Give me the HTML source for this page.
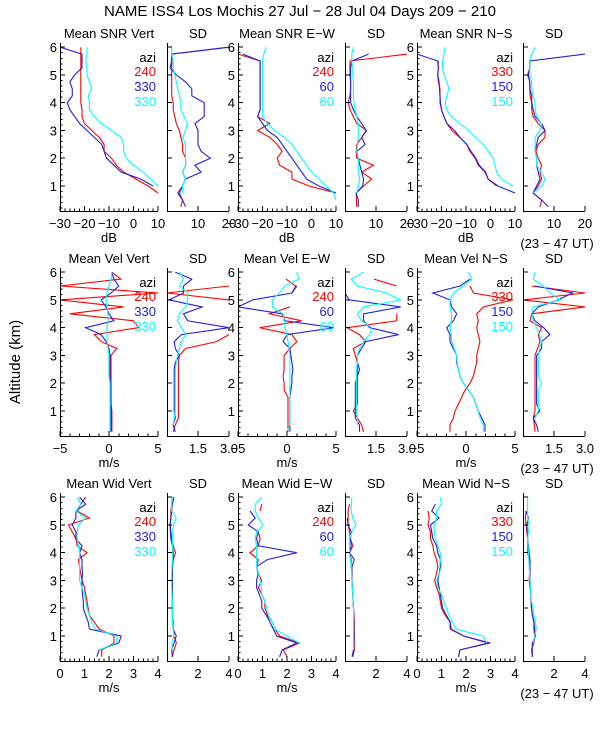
<!DOCTYPE html>
<html><head><meta charset="utf-8"><style>
html,body{margin:0;padding:0;background:#fff;}
svg{display:block;font-family:"Liberation Sans",sans-serif;}
text{fill:#000;}
</style></head><body>
<svg id="chart" width="600" height="750" viewBox="0 0 600 750" xmlns="http://www.w3.org/2000/svg">
<rect width="600" height="750" fill="#fff"/>
<text x="300" y="16" font-size="15" text-anchor="middle">NAME ISS4 Los Mochis  27 Jul − 28 Jul 04 Days 209 − 210</text>
<text x="0" y="0" font-size="15" text-anchor="middle" transform="translate(20,362) rotate(-90)">Altitude (km)</text>
<g id="panels"></g>
</svg>
<script>
const altitudes=[0.25,0.5,0.75,1.0,1.25,1.5,1.75,2.0,2.25,2.5,2.75,3.0,3.25,3.5,3.75,4.0,4.25,4.5,4.75,5.0,5.25,5.5,5.75,6.0];

const snrVertRed=[null,null,10,6,1,-4,-7,-9,-12,-12,-14,-17,-20,-21,-21,-21.5,-21.5,-21.5,-21.5,-21.5,-21.5,-21.5,-21.5,-21.5];
const snrVertBlue=[null,null,null,8,3,-5,-8,-11,-12,-13,-16,-19,-22,-24,-26,-27,-25,-25,-26,-24,-21,-21,-21,-30];
const snrVertCyan=[null,null,null,10,7,4,0,-3,-4,-4,-5,-9,-13,-16,-18,-18,-18.5,-17,-18,-19,-19,-19.5,-19,-19];
const sdSnrVertRed=[4.5,5,4,5,6,5,6,6,5,5,4.5,4,3,2.5,2,2,1.5,1.5,1.5,1.5,1.5,1.5,1.5,20];
const sdSnrVertBlue=[6,5,3.5,5,6,11,9,14,11,10,10,10,9,12,12,12,8,8,6,3,1,1.5,1.5,20];
const sdSnrVertCyan=[null,null,5,5,6,5,6,6,6,6,5,6,6.5,5.5,4.5,4.5,4,3.5,3,2.5,2,2,1.5,1.5];

const snrEWRed=[null,null,10,-1,-8,-8,-13,-14,-12,-14,-17,-22,-17,-22,-21,-21,-21,-21,-21,-21,-21,-21,-30,null];
const snrEWBlue=[null,null,10,3,-2,-4,-6,-8,-10,-12,-14,-18,-20,-22,-21,-21,-21,-21,-21,-21,-21,-21,-28,null];
const snrEWCyan=[null,10,9,6,3,0,-2,-4,-6,-8,-11,-15,-18,-20,-20,-20,-20,-20,-20,-20,-20,-20,-19.5,-18.5];
const sdSnrEWRed=[3.8,3.7,3.6,6,8.6,5.4,9.2,3.8,3.6,3.8,5.4,7,3.8,2.7,1.6,1,1.6,1.8,1.8,1.6,1.6,1.6,20,null];
const sdSnrEWBlue=[4.3,4.3,3.6,5.7,6,5.4,4.8,4.3,3.8,6.5,5.4,6.8,5.4,3.8,2.7,1.8,1.8,1.8,1.8,1.8,1.8,2.2,7.6,null];
const sdSnrEWCyan=[null,null,3.8,4.3,4.8,4.3,4.3,4.3,3.8,4,4.3,4.3,4.3,3.8,3.2,2.9,2.7,2.7,2.7,2.5,2.5,2.2,2.2,2.7];

const snrNSRed=[9,null,null,2.5,-0.9,-2.3,-5,-6.3,-8.4,-9.7,-12.5,-15.8,-17.8,-19,-20,-20.6,-20.6,-20.6,-21.3,-21.5,-21.3,-21.3,null,null];
const snrNSBlue=[null,null,10,3,-1,-2,-4.6,-6,-8,-9.7,-12.5,-14.7,-17.8,-19,-20,-20.4,-20.6,-20.8,-21,-21.5,-21.3,-21.5,-30,null];
const snrNSCyan=[null,null,null,9.3,4.5,2.5,1.8,1.1,-0.9,-3,-6,-9,-12.5,-16,-17.8,-18.5,-17.8,-17,-17.8,-19,-19.6,-19.6,-19,-18.5];
const sdSnrNSRed=[5.5,6,3.3,4.9,6,5.5,6,4.9,4.2,4.9,7.1,7.1,4.9,3.3,2.8,2.8,2.3,2.2,2.2,1.5,2.2,2.2,null,null];
const sdSnrNSBlue=[8.2,6,3.3,4.4,5.5,4.9,4.4,4.4,3.9,4.4,4.9,7.1,6,3.9,3.3,2.8,2.8,2.2,2.2,1.7,2.2,2.2,20,null];
const sdSnrNSCyan=[null,null,3.3,6,7.1,6,4.4,4.4,3.9,3.9,3.9,5.5,6,4.4,3.9,3.9,3.3,2.8,2.8,2.2,2.2,2.2,2.8,3.9];

const velVertRed=[0.3,0.3,0.3,0.3,0.2,0.2,0.2,0.2,0.2,0.2,0.2,0.2,0.8,-0.8,-1.5,3,2.5,-4,1.5,-5,5,-5,1.2,0.3];
const velVertBlue=[0.2,0.2,0.2,0.2,0.2,0.2,0.2,0.2,0.1,0.1,0.1,0.1,0,-0.3,-0.8,-2.4,0.5,0,-0.3,-0.8,0.2,1,0.5,0.3];
const velVertCyan=[0.1,0.1,0.1,0.1,0.1,0.1,0.1,0.1,0,0,0,0,-0.1,-0.2,-0.2,-0.2,-0.1,-0.1,-0.2,-0.3,-0.2,0,0.2,0.3];
const sdVelVertRed=[0.3,0.4,0.55,0.55,0.55,0.55,0.55,0.55,0.55,0.55,0.55,0.6,0.9,2.4,3,null,null,null,null,3,0,3,null,null];
const sdVelVertBlue=[0.4,0.3,0.4,0.35,0.35,0.35,0.35,0.35,0.35,0.35,0.4,0.6,0.4,0.35,0.7,3,1,0.8,1.7,0.1,0.8,0.8,1.2,0.4];
const sdVelVertCyan=[null,0.3,0.35,0.4,0.4,0.4,0.4,0.4,0.4,0.4,0.45,0.5,0.6,0.7,0.9,0.7,0.5,0.6,0.9,1,1,0.6,0.8,0.6];

const velEWRed=[0.1,0.1,0.1,0.1,0.1,0.1,-0.3,-0.3,-0.4,-0.3,-0.3,-0.3,0.3,1,0.5,-2.8,1.5,-1.8,0.3,null,0.5,0.9,-0.1,null];
const velEWBlue=[0.3,0.3,0.3,0.3,0.3,0.3,0.4,0.5,0.5,0.6,0.5,0.4,0.3,-0.4,0,4.8,-0.2,-0.5,-5,-3.5,0.5,1,null,null];
const velEWCyan=[0,0.3,0.3,0.3,0.3,0.3,0.3,0.3,0.3,0.3,0.3,0.3,0.2,0.1,0,-0.2,-0.3,-0.4,-1.5,-1.5,-0.8,-0.2,1.2,1];
const sdVelEWRed=[0.9,0.8,0.6,0.4,0.6,0.6,0.6,0.6,0.6,0.6,0.6,0.5,0.4,1,0.7,0.1,2.5,2.5,null,null,null,2.5,1.4,null];
const sdVelEWBlue=[0.7,0.7,0.5,0.5,0.5,0.5,0.5,0.5,0.6,0.7,0.6,0.6,0.8,1,2.6,1.2,0.9,0.9,2.7,0.2,0,0,null,null];
const sdVelEWCyan=[null,0.6,0.6,0.55,0.55,0.55,0.55,0.55,0.55,0.55,0.6,0.6,0.7,0.9,1.2,1.3,0.8,0.6,0.9,2.7,2.0,0.6,0.3,0.9];

const velNSRed=[-1.63,-1.63,-1.29,-1.12,-0.78,-0.44,-0.1,0.41,0.75,0.92,1.09,1.09,1.26,1.43,1.26,1.09,1.26,1.09,1.8,4.8,0.75,0.41,null,null];
const velNSBlue=[1.94,1.94,1.6,1.26,1.0,0.75,0.24,-0.27,-0.61,-0.78,-0.95,-0.95,-1.29,-1.63,-1.63,-1.97,-1.29,-0.95,-1.46,-1.63,-3.4,-0.61,0.41,null];
const velNSCyan=[1.77,1.77,1.43,1.26,1.0,0.75,0.24,-0.27,-0.6,-0.78,-0.9,-0.95,-1.2,-1.46,-1.5,-1.63,-1.5,-1.46,-1.63,-1.63,-1.29,-0.27,0.58,0.24];
const sdVelNSRed=[0.58,0.55,0.5,0.58,0.58,0.58,0.58,0.58,0.58,0.58,0.58,0.58,0.7,0.82,0.74,0.9,0.34,0.42,3,0.02,3,0.42,null,null];
const sdVelNSBlue=[0.74,0.66,0.5,0.82,0.66,0.66,0.66,0.66,0.66,0.66,0.66,0.66,0.9,0.9,1.3,1.0,0.58,0.42,0.74,1.7,2.4,0.58,null,null];
const sdVelNSCyan=[null,null,0.58,0.74,0.74,0.74,0.74,0.9,0.74,0.74,0.74,0.74,0.8,0.9,0.8,0.66,0.5,0.42,0.5,1.8,1.3,0.98,0.5,0.58];

const widVertRed=[1.7,1.7,2.2,2.2,1.6,1.4,1.2,1.15,1.1,1.05,1.0,0.9,0.85,0.8,0.75,1.1,0.7,0.65,0.5,0.35,1.2,0.7,0.85,1.05];
const widVertBlue=[1.5,1.6,2.4,2.5,1.2,1.15,1.05,0.95,0.95,0.92,0.9,0.9,0.92,0.9,0.9,0.8,0.9,0.65,0.65,0.5,0.65,0.65,1.05,0.8];
const widVertCyan=[null,1.6,2.3,2.3,1.45,1.3,1.2,1.1,1.05,1.0,0.9,0.8,0.8,0.8,0.8,0.8,0.75,0.7,0.7,0.75,1.05,0.65,0.85,0.7];
const sdWidVertRed=[0.35,0.45,0.6,0.45,0.4,0.4,0.35,0.35,0.35,0.35,0.35,0.35,0.35,0.35,0.4,0.55,0.4,0.3,0.25,0.2,0.25,0.25,0.3,0.35];
const sdWidVertBlue=[0.35,0.3,0.45,0.6,0.4,0.35,0.35,0.35,0.35,0.35,0.35,0.35,0.35,0.35,0.38,0.4,0.35,0.25,0.22,0.2,0.25,0.3,0.35,0.45];
const sdWidVertCyan=[null,0.35,0.3,0.45,0.4,0.35,0.35,0.35,0.35,0.32,0.3,0.3,0.3,0.32,0.35,0.35,0.35,0.35,0.38,0.4,0.6,0.3,0.3,0.35];

const widEWRed=[2.0,1.85,2.5,1.7,1.5,1.4,1.2,1.1,1.1,0.97,0.83,0.97,0.83,0.76,0.83,0.49,0.83,0.9,0.83,null,null,0.9,0.97,null];
const widEWBlue=[1.7,1.8,2.4,1.58,1.44,1.3,1.15,0.97,0.97,0.87,0.76,0.76,0.83,0.76,1.2,2.4,0.83,0.76,0.83,0.42,0.7,0.49,null,null];
const widEWCyan=[null,null,2.5,2.0,1.5,1.4,1.24,1.17,1.1,0.97,0.95,0.9,0.85,0.76,0.76,0.76,0.76,0.7,0.76,1.03,0.83,0.7,0.7,0.97];
const sdWidEWRed=[0.5,0.6,0.6,0.6,0.6,0.6,0.58,0.55,0.52,0.5,0.48,0.45,0.45,0.4,0.4,0.3,0.5,0.35,0.3,0.2,0.2,0.2,0.3,null];
const sdWidEWBlue=[0.45,0.55,0.58,0.6,0.58,0.57,0.56,0.55,0.52,0.5,0.48,0.45,0.45,0.45,0.6,0.3,0.4,0.35,0.4,0.2,0.15,null,null,null];
const sdWidEWCyan=[null,0.55,0.55,0.55,0.55,0.55,0.55,0.55,0.52,0.5,0.48,0.45,0.42,0.4,0.35,0.3,0.3,0.3,0.45,0.7,0.5,0.4,0.4,0.45];

const widNSRed=[1.7,1.75,3.0,1.9,1.35,1.35,1.15,1.0,0.95,0.9,0.8,0.72,0.8,0.85,0.8,0.7,0.65,0.55,0.55,0.45,0.5,0.45,null,null];
const widNSBlue=[1.7,1.75,2.9,1.9,1.4,1.35,1.2,1.05,1.0,0.95,0.9,0.85,0.9,0.95,0.95,0.85,0.8,0.65,0.6,0.55,0.9,0.6,0.75,null];
const widNSCyan=[null,null,2.85,2.7,1.6,1.45,1.3,1.2,1.1,1.0,0.85,0.8,0.9,1.0,0.95,0.95,0.85,0.75,0.7,0.7,0.8,0.8,1.0,0.95];
const sdWidNSRed=[0.6,0.55,0.7,0.75,0.7,0.7,0.6,0.55,0.52,0.5,0.45,0.4,0.42,0.45,0.4,0.3,0.3,0.3,0.25,0.2,0.15,0.2,null,null];
const sdWidNSBlue=[0.6,0.6,0.6,0.8,0.75,0.7,0.6,0.55,0.52,0.5,0.48,0.45,0.45,0.45,0.45,0.4,0.35,0.3,0.28,0.25,0.35,0.2,null,null];
const sdWidNSCyan=[null,null,0.65,0.75,0.85,0.8,0.7,0.65,0.55,0.5,0.48,0.45,0.42,0.4,0.38,0.35,0.32,0.3,0.35,0.4,0.3,0.3,0.3,0.3];

const yTickLabels=["1","2","3","4","5","6"];
const snrTickLabels=["−30","−20","−10","0","10"];
const snrTickValues=[-30,-20,-10,0,10];
const sdSnrTickLabels=["10","20"];
const sdSnrTickValues=[10,20];
const velTickLabels=["−5","0","5"];
const velTickValues=[-5,0,5];
const sdVelTickLabels=["1.5","3.0"];
const sdVelTickValues=[1.5,3.0];
const widTickLabels=["0","1","2","3","4"];
const widTickValues=[0,1,2,3,4];
const sdWidTickLabels=["2","4"];
const sdWidTickValues=[2,4];
const legendVert=["240","330","330"];
const legendEW=["240","60","60"];
const legendNS=["330","150","150"];

const COLORS=["#ff0000","#2020dd","#00ffff"];
const NS="http://www.w3.org/2000/svg";
const root=document.getElementById('panels');
const Y_MIN=0.1,Y_MAX=6.15;
const rowTops=[43,268,493];
const PH=168;
const meanX=[60,238,417],sdX=[167,345,523];
const MW=98,SW=62;

function mk(tag,attrs,parent){const e=document.createElementNS(NS,tag);for(const k in attrs)e.setAttribute(k,attrs[k]);(parent||root).appendChild(e);return e;}

const panels=[
 {row:0,x:meanX[0],w:MW,title:"Mean SNR Vert",dom:[-30,10],tv:snrTickValues,tl:snrTickLabels,minor:2,series:[snrVertRed,snrVertBlue,snrVertCyan],legend:legendVert,xlabel:"dB",mean:true},
 {row:0,x:sdX[0],w:SW,title:"SD",dom:[0,20],tv:sdSnrTickValues,tl:sdSnrTickLabels,minor:0,series:[sdSnrVertRed,sdSnrVertBlue,sdSnrVertCyan]},
 {row:0,x:meanX[1],w:MW,title:"Mean SNR E−W",dom:[-30,10],tv:snrTickValues,tl:snrTickLabels,minor:2,series:[snrEWRed,snrEWBlue,snrEWCyan],legend:legendEW,xlabel:"dB",mean:true},
 {row:0,x:sdX[1],w:SW,title:"SD",dom:[0,20],tv:sdSnrTickValues,tl:sdSnrTickLabels,minor:0,series:[sdSnrEWRed,sdSnrEWBlue,sdSnrEWCyan]},
 {row:0,x:meanX[2],w:MW,title:"Mean SNR N−S",dom:[-30,10],tv:snrTickValues,tl:snrTickLabels,minor:2,series:[snrNSRed,snrNSBlue,snrNSCyan],legend:legendNS,xlabel:"dB",mean:true},
 {row:0,x:sdX[2],w:SW,title:"SD",dom:[0,20],tv:sdSnrTickValues,tl:sdSnrTickLabels,minor:0,series:[sdSnrNSRed,sdSnrNSBlue,sdSnrNSCyan],ut:true},
 {row:1,x:meanX[0],w:MW,title:"Mean Vel Vert",dom:[-5,5],tv:velTickValues,tl:velTickLabels,minor:1,series:[velVertRed,velVertBlue,velVertCyan],legend:legendVert,xlabel:"m/s",mean:true},
 {row:1,x:sdX[0],w:SW,title:"SD",dom:[0,3],tv:sdVelTickValues,tl:sdVelTickLabels,minor:0,series:[sdVelVertRed,sdVelVertBlue,sdVelVertCyan]},
 {row:1,x:meanX[1],w:MW,title:"Mean Vel E−W",dom:[-5,5],tv:velTickValues,tl:velTickLabels,minor:1,series:[velEWRed,velEWBlue,velEWCyan],legend:legendEW,xlabel:"m/s",mean:true},
 {row:1,x:sdX[1],w:SW,title:"SD",dom:[0,3],tv:sdVelTickValues,tl:sdVelTickLabels,minor:0,series:[sdVelEWRed,sdVelEWBlue,sdVelEWCyan]},
 {row:1,x:meanX[2],w:MW,title:"Mean Vel N−S",dom:[-5,5],tv:velTickValues,tl:velTickLabels,minor:1,series:[velNSRed,velNSBlue,velNSCyan],legend:legendNS,xlabel:"m/s",mean:true},
 {row:1,x:sdX[2],w:SW,title:"SD",dom:[0,3],tv:sdVelTickValues,tl:sdVelTickLabels,minor:0,series:[sdVelNSRed,sdVelNSBlue,sdVelNSCyan],ut:true},
 {row:2,x:meanX[0],w:MW,title:"Mean Wid Vert",dom:[0,4],tv:widTickValues,tl:widTickLabels,minor:0.2,series:[widVertRed,widVertBlue,widVertCyan],legend:legendVert,xlabel:"m/s",mean:true},
 {row:2,x:sdX[0],w:SW,title:"SD",dom:[0,4],tv:sdWidTickValues,tl:sdWidTickLabels,minor:0,series:[sdWidVertRed,sdWidVertBlue,sdWidVertCyan]},
 {row:2,x:meanX[1],w:MW,title:"Mean Wid E−W",dom:[0,4],tv:widTickValues,tl:widTickLabels,minor:0.2,series:[widEWRed,widEWBlue,widEWCyan],legend:legendEW,xlabel:"m/s",mean:true},
 {row:2,x:sdX[1],w:SW,title:"SD",dom:[0,4],tv:sdWidTickValues,tl:sdWidTickLabels,minor:0,series:[sdWidEWRed,sdWidEWBlue,sdWidEWCyan]},
 {row:2,x:meanX[2],w:MW,title:"Mean Wid N−S",dom:[0,4],tv:widTickValues,tl:widTickLabels,minor:0.2,series:[widNSRed,widNSBlue,widNSCyan],legend:legendNS,xlabel:"m/s",mean:true},
 {row:2,x:sdX[2],w:SW,title:"SD",dom:[0,4],tv:sdWidTickValues,tl:sdWidTickLabels,minor:0,series:[sdWidNSRed,sdWidNSBlue,sdWidNSCyan],ut:true}
];
const seriesNames=["red","blue","cyan"];

panels.forEach((p,pi)=>{
  const top=rowTops[p.row],bot=top+PH,left=p.x,right=p.x+p.w;
  const xs=v=>left+(v-p.dom[0])/(p.dom[1]-p.dom[0])*p.w;
  const ys=a=>bot-(a-Y_MIN)/(Y_MAX-Y_MIN)*PH;
  const g=mk('g',{});
  
  
  const t=mk('text',{x:(left+right)/2,y:top-5,'font-size':13,'text-anchor':'middle'},g);
  
  
  t.textContent=p.title;
  // clip
  const cp=mk('clipPath',{id:'cp'+pi},g);
  mk('rect',{x:left,y:top-2,width:p.w+1,height:PH+2},cp);
  // series
  p.series.forEach((arr,si)=>{
    let d='',pen=false;
    arr.forEach((v,i)=>{
      if(v===null||v===undefined){pen=false;return;}
      d+=(pen?'L':'M')+xs(v).toFixed(1)+' '+ys(altitudes[i]).toFixed(1)+' ';pen=true;
    });
    const path=mk('path',{d:d,fill:'none',stroke:COLORS[si],'stroke-width':1.1,'clip-path':'url(#cp'+pi+')'},g);
    
    
  });
  // axes
  const ax=mk('path',{d:`M${left+0.5} ${top} V${bot+0.5} H${right}`,fill:'none',stroke:'#000','stroke-width':1,'shape-rendering':'crispEdges'},g);
  
  
  let tk='';
  for(let a=1;a<=6;a++){tk+=`M${left} ${ys(a).toFixed(1)} h5 `;}
  if(p.mean){for(let a=0.2;a<=6.1;a+=0.2){tk+=`M${left} ${ys(a).toFixed(1)} h2.5 `;}}
  p.tv.forEach(v=>{tk+=`M${xs(v).toFixed(1)} ${bot} v-5 `;});
  if(p.minor){for(let v=p.dom[0];v<=p.dom[1]+1e-9;v+=p.minor){tk+=`M${xs(v).toFixed(1)} ${bot} v-2.5 `;}}
  const tp=mk('path',{d:tk,stroke:'#000','stroke-width':1,fill:'none','shape-rendering':'crispEdges'},g);
  
  
  if(p.mean){
    yTickLabels.forEach((l,i)=>{
      const e=mk('text',{x:left-3,y:ys(i+1)+5,'font-size':13,'text-anchor':'end'},g);
      
      
      e.textContent=l;
    });
  }
  p.tl.forEach((l,i)=>{
    const e=mk('text',{x:xs(p.tv[i]),y:bot+17,'font-size':13,'text-anchor':'middle'},g);
    
    
    e.textContent=l;
  });
  if(p.xlabel){
    const e=mk('text',{x:(left+right)/2,y:bot+31,'font-size':13,'text-anchor':'middle'},g);
    
    
    e.textContent=p.xlabel;
  }
  if(p.ut){
    const e=mk('text',{x:557,y:bot+37,'font-size':13,'text-anchor':'middle'},g);
    
    
    e.textContent='(23 − 47 UT)';
  }
  if(p.legend){
    const e=mk('text',{x:right-2,y:top+19,'font-size':13,'text-anchor':'end'},g);
    
    
    e.textContent='azi';
    p.legend.forEach((l,i)=>{
      const le=mk('text',{x:right-2,y:top+33+i*15,'font-size':13,'text-anchor':'end',style:'fill:'+COLORS[i]},g);
      
      
      le.textContent=l;
    });
  }
});
</script>
</body></html>
